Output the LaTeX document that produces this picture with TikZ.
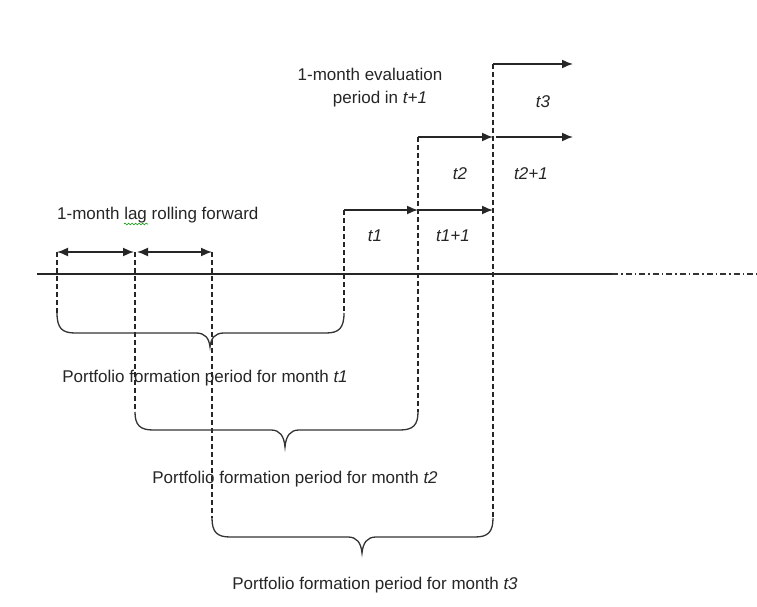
\documentclass[tikz,border=0pt]{standalone}
\usepackage{fontspec}
\setmainfont{Liberation Sans}
\usetikzlibrary{arrows.meta,decorations.pathmorphing}
\begin{document}
\begin{tikzpicture}[x=1pt,y=-1pt,
  lbl/.style={font=\fontsize{17}{20}\selectfont, inner sep=0pt, text=black!85},
  solidln/.style={line width=1.6pt, black!85},
  arr/.style={solidln, -{Latex[length=11pt,width=9pt]}},
  darr/.style={solidln, {Latex[length=11pt,width=9pt]}-{Latex[length=11pt,width=9pt]}},
  vdash/.style={line width=1.2pt, dash pattern=on 5pt off 3pt, black!85},
  bracecurve/.style={line width=1.3pt, black!80},
]
\useasboundingbox (0,0) rectangle (757,607);
\fill[white] (0,0) rectangle (757,607);

% timeline
\coordinate (tl0) at (37,274);
\coordinate (tl1) at (612,274);
\coordinate (tl2) at (757,274);
\draw[solidln] (tl0) -- (tl1);
\draw[line width=1.5pt, black!80, dash pattern=on 6pt off 3pt on 1.5pt off 3pt] (tl1) -- (tl2);

% lag arrows
\coordinate (a0) at (57,252);
\coordinate (a1) at (134,252);
\coordinate (a2) at (137,252);
\coordinate (a3) at (212,252);
\coordinate (a1d) at (135,252);
\draw[darr] (a0) -- (a1);
\draw[darr] (a2) -- (a3);

% evaluation steps
\coordinate (s1) at (344,210);
\coordinate (s2) at (418,210);
\coordinate (s3) at (493,210);
\coordinate (u1) at (418,137);
\coordinate (u2) at (493,137);
\coordinate (u2b) at (496,137);
\coordinate (u3) at (573,137);
\coordinate (v1) at (493,64);
\coordinate (v2) at (573,64);
\draw[arr] (s1) -- (s2);
\draw[arr] (s2) -- (s3);
\draw[arr] (u1) -- (u2);
\draw[arr] (u2b) -- (u3);
\draw[arr] (v1) -- (v2);

% brace end points
\coordinate (b1l) at (57,313);
\coordinate (b1r) at (344,313);
\coordinate (b2l) at (135,412);
\coordinate (b2r) at (418,412);
\coordinate (b3l) at (212,518);
\coordinate (b3r) at (493,518);

% dashed verticals
\draw[vdash] (a0) -- (b1l);
\draw[vdash] (a1d) -- (b2l);
\draw[vdash] (a3) -- (b3l);
\draw[vdash] (s1) -- (b1r);
\draw[vdash] (u1) -- (b2r);
\draw[vdash] (v1) -- (b3r);

% braces
\draw[bracecurve] (b1l) .. controls (57,328) and (62,333) .. (75,333) -- (196,333)
  .. controls (205,333) and (209,338) .. (210,347)
  .. controls (211,338) and (215,333) .. (224,333) -- (326,333)
  .. controls (339,333) and (344,328) .. (b1r);
\draw[bracecurve] (b2l) .. controls (135,425) and (140,430) .. (153,430) -- (271,430)
  .. controls (280,430) and (284,436) .. (285,447)
  .. controls (286,436) and (290,430) .. (299,430) -- (400,430)
  .. controls (413,430) and (418,425) .. (b2r);
\draw[bracecurve] (b3l) .. controls (212,532) and (217,537) .. (230,537) -- (348,537)
  .. controls (357,537) and (361,543) .. (362,553)
  .. controls (363,543) and (367,537) .. (376,537) -- (475,537)
  .. controls (488,537) and (493,532) .. (b3r);

% texts
\node[lbl, anchor=base west] (lag) at (57,219) {1-month lag rolling forward};
\draw[green!60!black, line width=0.6pt, decorate, decoration={snake, amplitude=0.9pt, segment length=3.5pt}] (124,224) -- (148,224);

\node[lbl, anchor=base] (ev1) at (370,81) {1-month evaluation};
\node[lbl, anchor=base] (ev2) at (380,103) {period in \textit{t+1}};

\node[lbl, anchor=base] (lt1) at (375,241) {\textit{t1}};
\node[lbl, anchor=base] (lt11) at (453,241) {\textit{t1+1}};
\node[lbl, anchor=base] (lt2) at (460,179) {\textit{t2}};
\node[lbl, anchor=base] (lt21) at (531,179) {\textit{t2+1}};
\node[lbl, anchor=base] (lt3) at (543,108) {\textit{t3}};

\node[lbl, anchor=base] (p1) at (205,382) {Portfolio formation period for month \textit{t1}};
\node[lbl, anchor=base] (p2) at (295,483) {Portfolio formation period for month \textit{t2}};
\node[lbl, anchor=base] (p3) at (375,589) {Portfolio formation period for month \textit{t3}};
\end{tikzpicture}
\end{document}
